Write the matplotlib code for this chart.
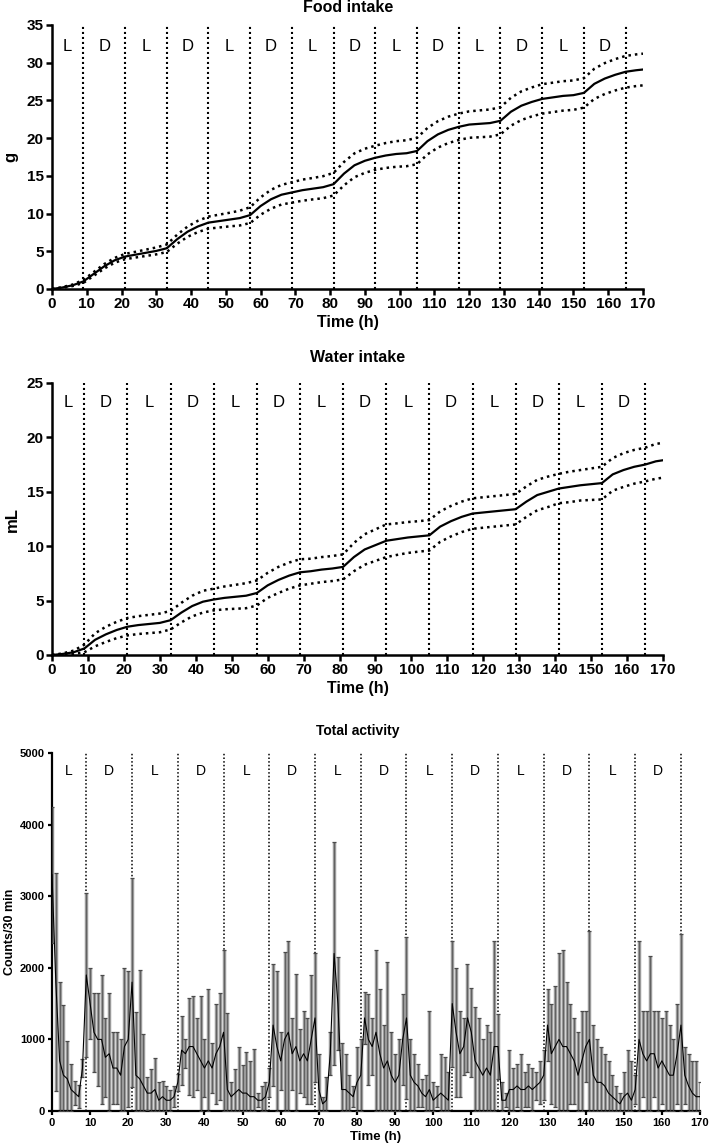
import numpy as np
import matplotlib
matplotlib.use("Agg")
import matplotlib.pyplot as plt

plt.rcParams["font.family"] = ["Liberation Sans", "DejaVu Sans"]

# light/dark phase boundaries (h) and phase labels
phase_edges = [9, 21, 33, 45, 57, 69, 81, 93, 105, 117, 129, 141, 153, 165]
phase_labels = ["L", "D", "L", "D", "L", "D", "L", "D", "L", "D", "L", "D", "L", "D"]
phase_mids = [4.5, 15, 27, 39, 51, 63, 75, 87, 99, 111, 123, 135, 147, 159]

# cumulative intake, every 3 h (+170)
intake_t = list(range(0, 169, 3)) + [170]
food_mean = [0, 0.2, 0.5, 1.0, 2.0, 3.0, 3.8, 4.3, 4.55, 4.8, 5.05, 5.4,
             6.6, 7.6, 8.3, 8.8, 9.0, 9.2, 9.4, 9.8, 11.0, 11.9, 12.5, 12.8,
             13.1, 13.3, 13.5, 13.9, 15.3, 16.4, 17.0, 17.4, 17.7, 17.9, 18.0, 18.3,
             19.6, 20.5, 21.1, 21.5, 21.8, 21.9, 22.0, 22.3, 23.5, 24.3, 24.8, 25.2,
             25.4, 25.6, 25.7, 26.0, 27.2, 27.9, 28.4, 28.8, 29.0, 29.1]
food_sd = [0, 0.05, 0.1, 0.2, 0.25, 0.3, 0.32, 0.35, 0.38, 0.42, 0.46, 0.5,
           0.6, 0.68, 0.75, 0.8, 0.85, 0.9, 0.98, 1.05, 1.15, 1.25, 1.3, 1.35,
           1.4, 1.42, 1.46, 1.5, 1.55, 1.58, 1.6, 1.6, 1.65, 1.7, 1.72, 1.75,
           1.75, 1.75, 1.75, 1.75, 1.75, 1.78, 1.8, 1.8, 1.85, 1.9, 1.92, 1.95,
           1.95, 1.95, 1.95, 1.95, 2.0, 2.05, 2.08, 2.1, 2.1, 2.1]
water_mean = [0, 0.1, 0.25, 0.6, 1.4, 1.9, 2.3, 2.6, 2.75, 2.85, 2.95, 3.2,
              3.9, 4.5, 4.9, 5.1, 5.25, 5.35, 5.45, 5.7, 6.4, 6.9, 7.3, 7.6,
              7.7, 7.85, 7.95, 8.1, 9.0, 9.7, 10.1, 10.5, 10.65, 10.8, 10.9, 11.0,
              11.8, 12.3, 12.7, 13.0, 13.1, 13.2, 13.3, 13.4, 14.1, 14.7, 15.0, 15.3,
              15.45, 15.6, 15.7, 15.8, 16.6, 17.0, 17.3, 17.5, 17.8, 17.9]
water_sd = [0, 0.05, 0.15, 0.35, 0.6, 0.7, 0.75, 0.8, 0.82, 0.84, 0.86, 0.85,
            0.9, 0.95, 1.0, 1.0, 1.05, 1.1, 1.15, 1.15, 1.15, 1.2, 1.2, 1.2,
            1.15, 1.15, 1.15, 1.15, 1.3, 1.4, 1.45, 1.5, 1.45, 1.42, 1.4, 1.4,
            1.4, 1.4, 1.4, 1.4, 1.4, 1.4, 1.4, 1.4, 1.4, 1.4, 1.4, 1.35,
            1.4, 1.4, 1.45, 1.5, 1.5, 1.55, 1.55, 1.55, 1.6, 1.6]

# total activity, hourly mean and mean+SD (counts/30 min)
act_t = list(range(0, 171))
act_mean = [3300, 1800, 700, 500, 450, 300, 250, 200, 600, 1900,
            1500, 1100, 1000, 1000, 750, 800, 600, 600, 500, 900, 1000, 1800,
            500, 450, 350, 250, 250, 300, 150, 200, 150, 150, 200, 400,
            850, 800, 900, 900, 800, 700, 600, 700, 600, 800, 900, 1100,
            300, 200, 250, 300, 250, 250, 200, 200, 150, 150, 200, 400,
            1200, 900, 700, 1000, 1100, 800, 900, 700, 800, 700, 1000, 1300,
            300, 100, 150, 800, 2200, 1500, 300, 300, 250, 200, 400, 500,
            1300, 1000, 900, 1100, 800, 600, 700, 500, 400, 500, 1000, 1300,
            500, 400, 350, 250, 200, 300, 150, 200, 250, 200, 150, 1500,
            1100, 800, 900, 1300, 1100, 700, 600, 500, 600, 500, 900, 900,
            150, 150, 300, 300, 350, 300, 300, 350, 300, 350, 400, 500,
            1200, 800, 900, 1000, 900, 900, 800, 700, 500, 700, 900, 1000,
            500, 400, 400, 350, 250, 200, 150, 100, 200, 250, 150, 300,
            1000, 800, 700, 800, 800, 600, 700, 600, 500, 500, 800, 1200,
            500, 350, 250, 200, 200]
act_top = [4250, 3320, 1800, 1480, 980, 650, 420, 360, 730, 3040,
           2000, 1650, 1650, 1900, 1300, 1650, 1100, 1100, 1000, 2000, 1950, 3260,
           1380, 1970, 1080, 480, 580, 740, 400, 420, 350, 300, 350, 520,
           1330, 1000, 1580, 1600, 1300, 1600, 1000, 1700, 950, 1500, 1650, 2250,
           1370, 400, 580, 900, 640, 830, 700, 870, 250, 350, 400, 600,
           2050, 1950, 1100, 2220, 2370, 1300, 1920, 1150, 1400, 1300, 1900, 2200,
           800, 200, 470, 1100, 3760, 2150, 950, 800, 500, 350, 900, 1000,
           1660, 1640, 1300, 2250, 1700, 1200, 2080, 1100, 800, 1000, 1640, 2430,
           1000, 800, 650, 450, 500, 1400, 400, 350, 800, 750, 550, 2380,
           2000, 1400, 1300, 2050, 1720, 1450, 1300, 1000, 1200, 1100, 2380, 1350,
           400, 250, 850, 600, 650, 800, 550, 650, 600, 550, 700, 850,
           1700, 1500, 1750, 2200, 2250, 1800, 1500, 1300, 1100, 1400, 1400, 2520,
           1200, 1000, 900, 800, 700, 500, 350, 250, 550, 850, 700, 500,
           2380, 1400, 1400, 2160, 1400, 1400, 1300, 1400, 1200, 1000, 1500, 2470,
           900, 800, 700, 700, 400]

W, H = 709, 1148
fig = plt.figure(figsize=(W / 100, H / 100), dpi=100)


def box(l, t, r, b):
    return [l / W, 1 - b / H, (r - l) / W, (b - t) / H]


def style(ax, fs, lw, tl):
    for s in ["top", "right"]:
        ax.spines[s].set_visible(False)
    for s in ["left", "bottom"]:
        ax.spines[s].set_linewidth(lw)
    ax.tick_params(direction="out", length=tl, width=lw, labelsize=fs, pad=2)
    for lab in ax.get_xticklabels() + ax.get_yticklabels():
        lab.set_fontweight("bold")


def phases(ax, ytxt, fs, lw):
    for x in phase_edges:
        ax.axvline(x, color="k", linestyle=(0, (1, 1.4)), lw=lw, zorder=1)
    for x, s in zip(phase_mids, phase_labels):
        ax.text(x, ytxt, s, ha="center", va="center", fontsize=fs)


# ---- Food intake ----
ax1 = fig.add_axes(box(52, 25, 643, 289))
fm = np.array(food_mean)
fs_ = np.array(food_sd)
ax1.plot(intake_t, fm, color="k", lw=1.6)
ax1.plot(intake_t, fm + fs_, color="k", lw=1.8, linestyle=(0, (1, 1.6)))
ax1.plot(intake_t, fm - fs_, color="k", lw=1.8, linestyle=(0, (1, 1.6)))
phases(ax1, 32.2, 12, 1.5)
ax1.set_xlim(0, 170)
ax1.set_ylim(0, 35)
ax1.set_xticks(range(0, 171, 10))
ax1.set_yticks(range(0, 36, 5))
style(ax1, 11, 1.8, 4)
ax1.set_xlabel("Time (h)", fontsize=11.5, fontweight="bold", labelpad=3)
ax1.set_ylabel("g", fontsize=12, fontweight="bold", labelpad=6)
fig.text(348 / W, 1 - 8 / H, "Food intake", ha="center", va="center",
         fontsize=11.5, fontweight="bold")

# ---- Water intake ----
ax2 = fig.add_axes(box(52, 383, 663, 655))
wm = np.array(water_mean)
ws = np.array(water_sd)
ax2.plot(intake_t, wm, color="k", lw=1.6)
ax2.plot(intake_t, wm + ws, color="k", lw=1.8, linestyle=(0, (1, 1.6)))
ax2.plot(intake_t, wm - ws, color="k", lw=1.8, linestyle=(0, (1, 1.6)))
phases(ax2, 23.2, 12, 1.5)
ax2.set_xlim(0, 170)
ax2.set_ylim(0, 25)
ax2.set_xticks(range(0, 171, 10))
ax2.set_yticks(range(0, 26, 5))
style(ax2, 11, 1.8, 4)
ax2.set_xlabel("Time (h)", fontsize=11.5, fontweight="bold", labelpad=3)
ax2.set_ylabel("mL", fontsize=12, fontweight="bold", labelpad=5)
fig.text(358 / W, 1 - 358 / H, "Water intake", ha="center", va="center",
         fontsize=11.5, fontweight="bold")

# ---- Total activity ----
ax3 = fig.add_axes(box(52, 753, 700, 1111))
am = np.array(act_mean, dtype=float)
asd = np.array(act_top, dtype=float) - am
low = np.minimum(am, asd)
# wide grey bars with a thin dark core line, capped at mean+SD
ax3.errorbar(act_t, am, yerr=[low, asd], fmt="none", ecolor="#9a9a9a",
             elinewidth=2.5, capsize=0, zorder=2)
cont = ax3.errorbar(act_t, am, yerr=[low, asd], fmt="-", color="k", lw=0.8,
                    ecolor="#4a4a4a", elinewidth=0.5, capsize=1.3, capthick=0.9,
                    zorder=3)
phases(ax3, 4750, 10, 1.1)
ax3.set_xlim(0, 170)
ax3.set_ylim(0, 5000)
ax3.set_xticks(range(0, 171, 10))
ax3.set_yticks(range(0, 5001, 1000))
style(ax3, 8, 1.6, 3)
ax3.set_xlabel("Time (h)", fontsize=9.5, fontweight="bold", labelpad=2)
ax3.set_ylabel("Counts/30 min", fontsize=9, fontweight="bold", labelpad=3)
fig.text(358 / W, 1 - 731 / H, "Total activity", ha="center", va="center",
         fontsize=10, fontweight="bold")

fig.savefig("out.png", dpi=100)
